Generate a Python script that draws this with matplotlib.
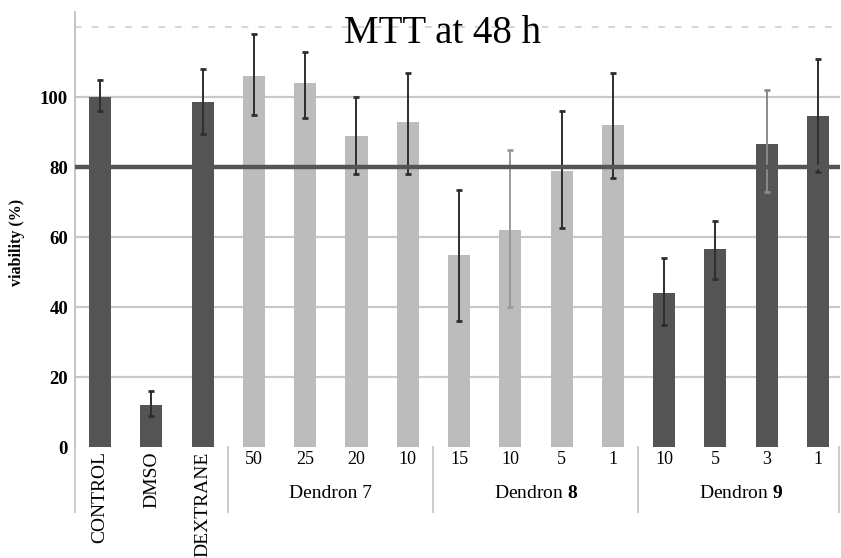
import matplotlib
matplotlib.use("Agg")
import matplotlib.pyplot as plt
import matplotlib.transforms as mtransforms
import numpy as np

plt.rcParams["font.family"] = ["Liberation Serif", "DejaVu Serif"]
plt.rcParams["mathtext.fontset"] = "custom"
plt.rcParams["mathtext.rm"] = "Liberation Serif"
plt.rcParams["mathtext.bf"] = "Liberation Serif:bold"

# data
labels = ["CONTROL", "DMSO", "DEXTRANE", "50", "25", "20", "10",
          "15", "10", "5", "1", "10", "5", "3", "1"]
viability = [100, 12, 98.5, 106, 104, 89, 93, 55, 62, 79, 92, 44, 56.5, 86.5, 94.5]
err_low = [96, 9, 89.5, 95, 94, 78, 78, 36, 40, 62.5, 77, 35, 48, 73, 78.5]
err_high = [105, 16, 108, 118, 113, 100, 107, 73.5, 85, 96, 107, 54, 64.5, 102, 111]
groups = ["Dendron 7", r"Dendron $\mathbf{8}$", r"Dendron $\mathbf{9}$"]
group_span = [(3, 6), (7, 10), (11, 14)]

dark = "#545454"
light = "#bcbcbc"
bar_colors = [dark, dark, dark] + [light] * 8 + [dark] * 4
err_colors = ["#2e2e2e"] * 15
err_colors[8] = "#9a9a9a"
err_colors[13] = "#8a8a8a"

x = np.arange(len(labels))

fig = plt.figure(figsize=(8.41, 5.58), dpi=100)
ax = fig.add_axes([75 / 841, 1 - 447 / 558, 765 / 841, 435 / 558])

# grid
for g in [20, 40, 60, 100]:
    ax.axhline(g, color="#c9c9c9", lw=1.6, zorder=0)
ax.axhline(120, color="#d0d0d0", lw=1.2, ls=(0, (4, 6)), zorder=0)

ax.bar(x, viability, width=0.43, color=bar_colors, zorder=2)

for i in range(len(x)):
    lo = viability[i] - err_low[i]
    hi = err_high[i] - viability[i]
    ax.errorbar(x[i], viability[i], yerr=[[lo], [hi]], fmt="none",
                ecolor=err_colors[i], elinewidth=1.4, capsize=2.5,
                capthick=2, zorder=3)

# 80% threshold
ax.axhline(80, color="#555555", lw=3.2, zorder=4)

ax.set_xlim(-0.49, 14.43)
ax.set_ylim(0, 124.3)
ax.set_yticks([0, 20, 40, 60, 80, 100])
ax.set_yticklabels(["0", "20", "40", "60", "80", "100"], fontweight="bold", fontsize=13.5)
ax.tick_params(axis="y", length=0, pad=5)
ax.set_ylabel("viability (%)", fontweight="bold", fontsize=11.5)
ax.yaxis.set_label_coords(-0.066, 0.47)

ax.set_xticks(x)
ax.set_xticklabels(labels, fontsize=13)
ax.tick_params(axis="x", length=0, pad=3)
for i, t in enumerate(ax.get_xticklabels()):
    if i < 3:
        t.set_rotation(90)
        t.set_fontsize(14)

for s in ["top", "right", "bottom"]:
    ax.spines[s].set_visible(False)
ax.spines["left"].set_color("#c4c4c4")
ax.spines["left"].set_linewidth(1.4)

# group separators and labels below axis
trans = mtransforms.blended_transform_factory(ax.transData, ax.transAxes)
for sep in [-0.49, 2.5, 6.5, 10.5, 14.42]:
    ax.plot([sep, sep], [0, -0.15], transform=trans, color="#cccccc",
            lw=1.4, clip_on=False)
for name, (a, b) in zip(groups, group_span):
    ax.text((a + b) / 2, -0.106, name, transform=trans, ha="center",
            va="center", fontsize=14)

ax.text(0.481, 0.95, "MTT at 48 h", transform=ax.transAxes, ha="center",
        va="center", fontsize=28)

fig.savefig("out.png", dpi=100)
